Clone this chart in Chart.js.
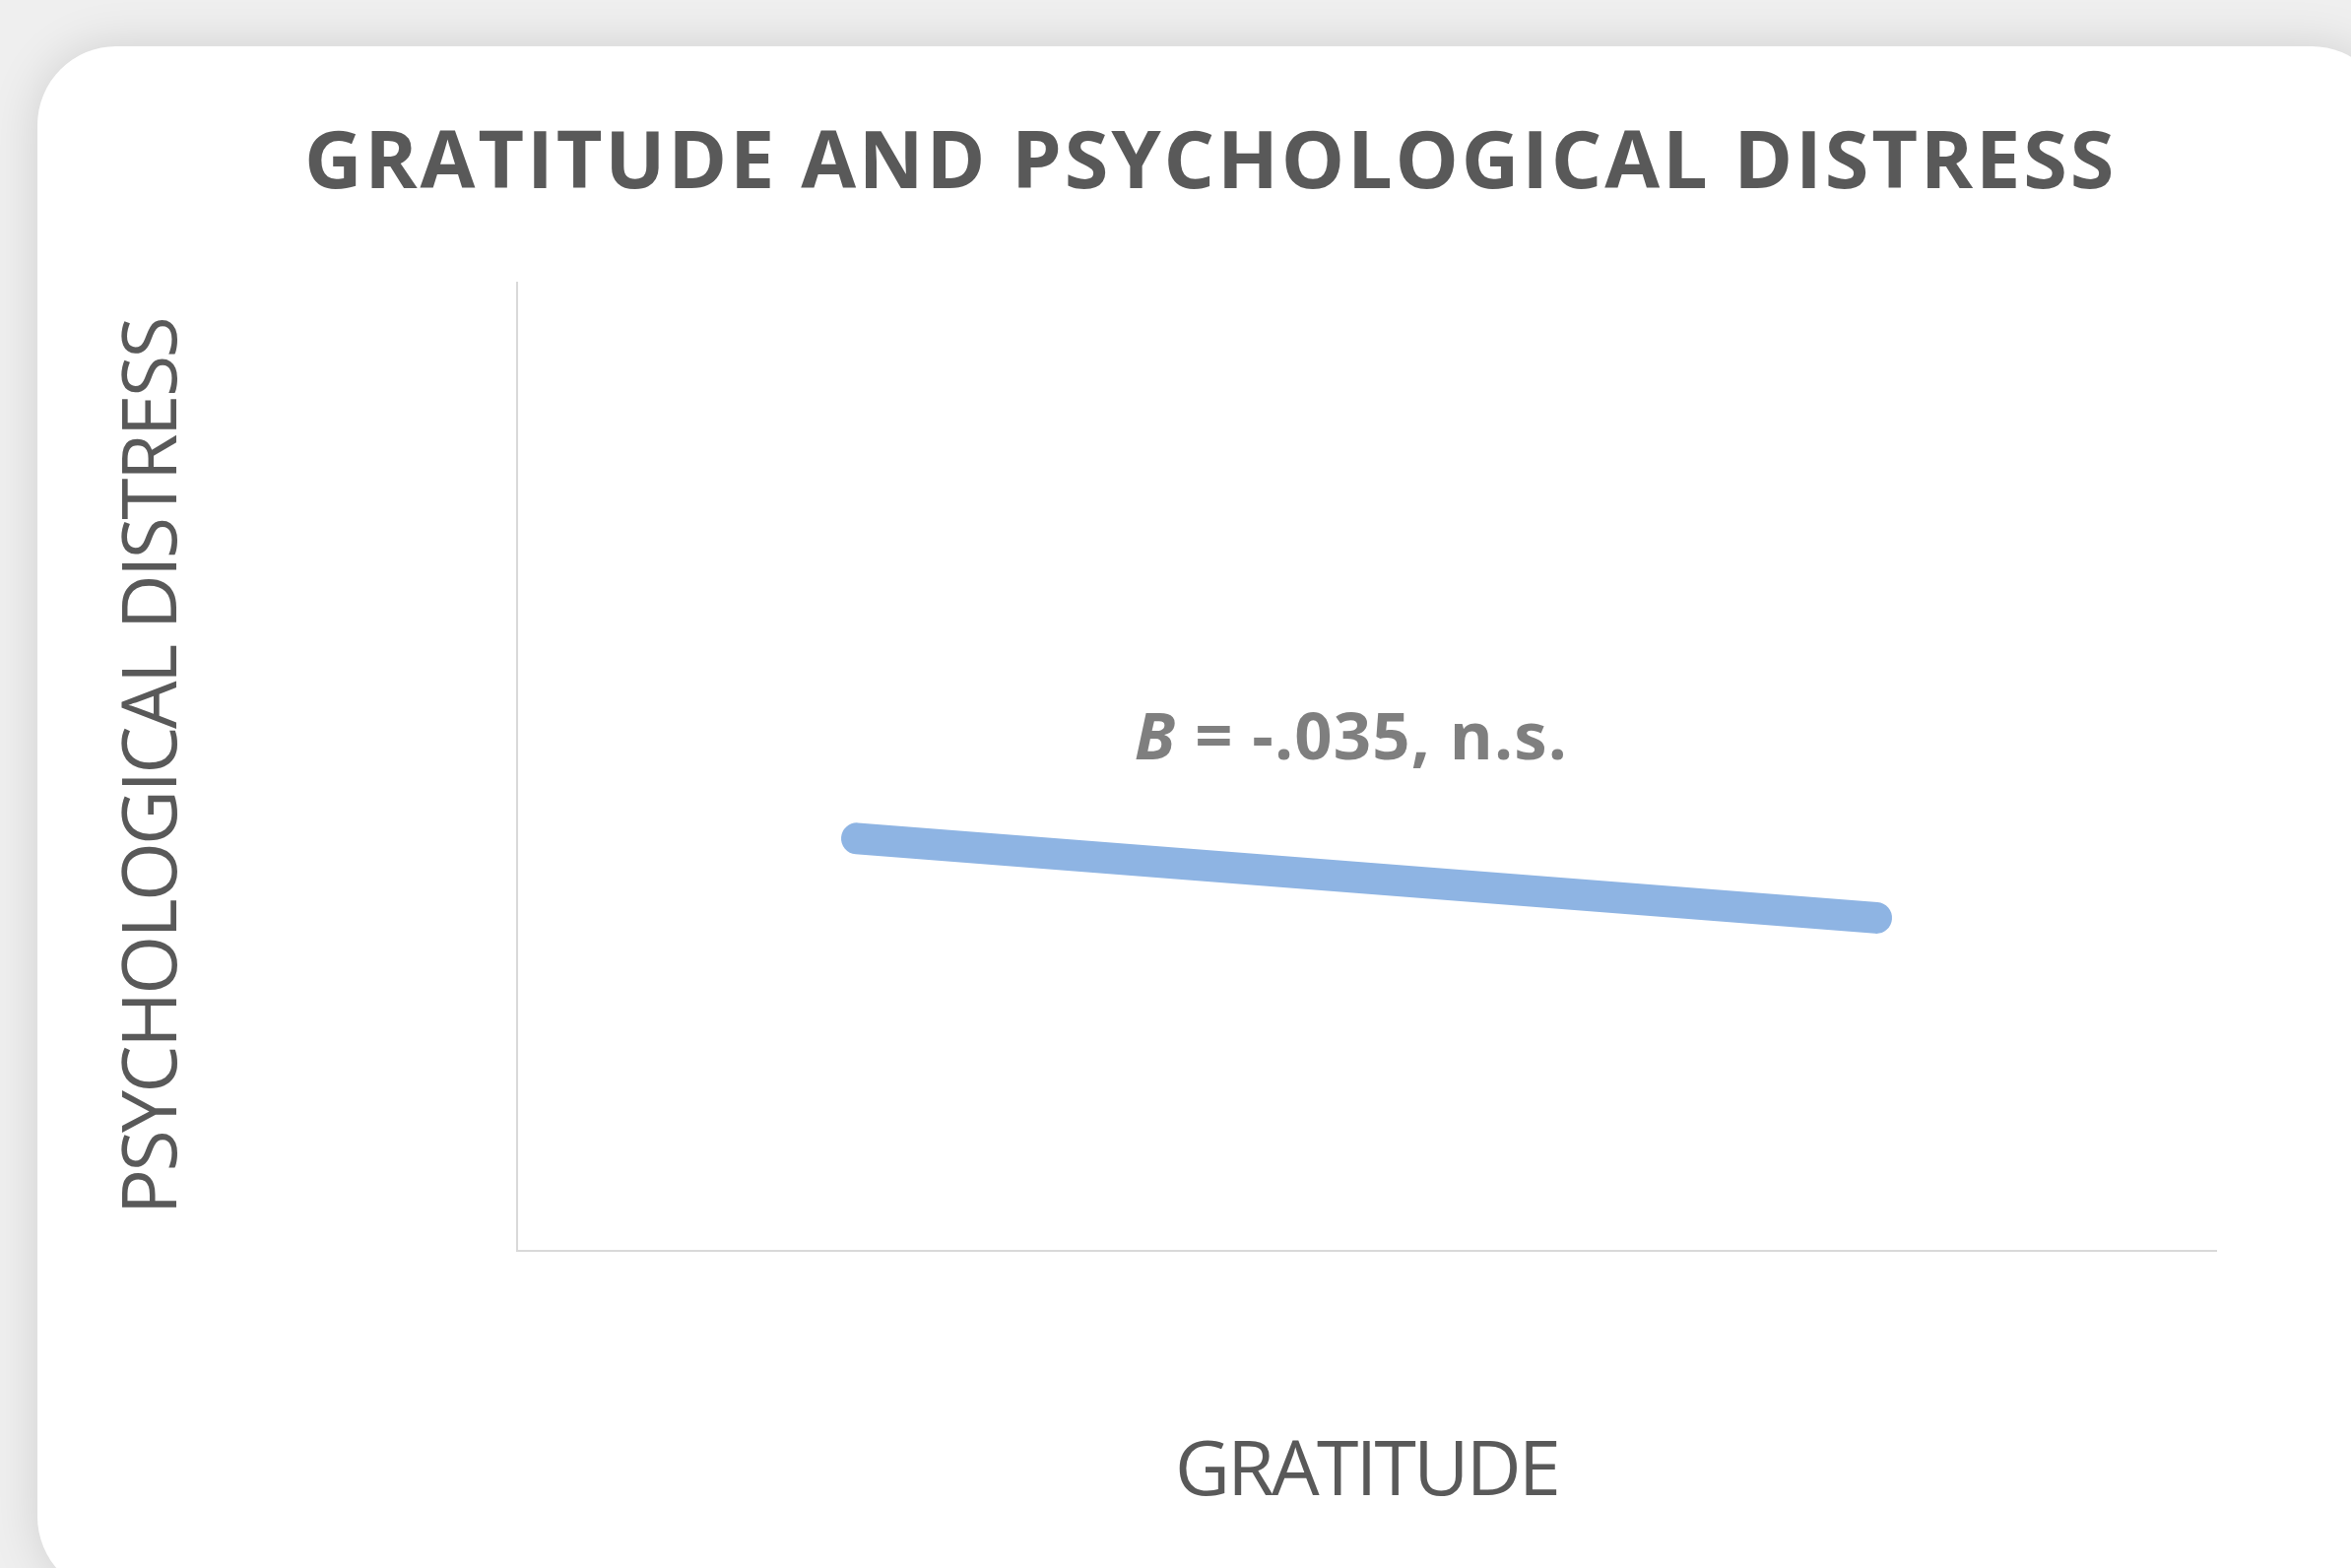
<!DOCTYPE html>
<html>
<head>
<meta charset="utf-8">
<script src="https://cdn.jsdelivr.net/npm/chart.js@4.4.1/dist/chart.umd.min.js"></script>
<style>
  html, body { margin: 0; padding: 0; width: 2387px; height: 1592px; overflow: hidden; background: #efefef; }
  #card { position: absolute; left: 38px; top: 47px; width: 2389px; height: 1573px; background: #ffffff; border-radius: 80px; box-shadow: 0 0 50px 0 rgba(0,0,0,0.13); }
  #wrap { position: absolute; left: 0; top: 0; width: 2387px; height: 1592px; }
</style>
</head>
<body>
<div id="card"></div>
<div id="wrap"><canvas id="c" width="2387" height="1592"></canvas></div>
<script>
// ---- data ----
const gratitude = [1, 4];              // low / high gratitude (x)
const distress = [2.13, 1.72];         // predicted psychological distress (y)
const chartTitle = 'GRATITUDE AND PSYCHOLOGICAL DISTRESS';
const xTitle = 'GRATITUDE';
const yTitle = 'PSYCHOLOGICAL DISTRESS';
const annotationParts = ['B', ' = -.035, n.s.'];
const annotationAt = [2.455, 2.635];   // data-space position of the label

const FONT = '"Open Sans", "Noto Sans", sans-serif';

function withSpacing(ctx, spacing, fn) {
  ctx.save();
  ctx.letterSpacing = spacing;
  fn();
  ctx.restore();
}

const spacingPlugin = {
  id: 'spacing',
  beforeDraw(chart) {
    const ctx = chart.ctx;
    const tb = chart.titleBlock;
    if (tb && !tb._wrapped) {
      const orig = tb.draw.bind(tb);
      tb.draw = function (a) { withSpacing(ctx, '2.8px', () => orig(a)); };
      tb._wrapped = true;
    }
    ['x', 'y'].forEach(id => {
      const s = chart.scales[id];
      if (s && !s._wrapped) {
        const orig = s.drawTitle.bind(s);
        s.drawTitle = function () { withSpacing(ctx, '-2.7px', () => orig()); };
        s._wrapped = true;
      }
    });
  }
};

const labelPlugin = {
  id: 'slopeLabel',
  afterDatasetsDraw(chart) {
    const ctx = chart.ctx;
    const xs = chart.scales.x, ys = chart.scales.y;
    const cx = xs.getPixelForValue(annotationAt[0]);
    const cy = ys.getPixelForValue(annotationAt[1]);
    ctx.save();
    ctx.letterSpacing = '1.2px';
    ctx.fillStyle = '#7f7f7f';
    ctx.textBaseline = 'middle';
    ctx.textAlign = 'left';
    const f1 = 'italic bold 67px ' + FONT;
    const f2 = 'bold 67px ' + FONT;
    ctx.font = f1; const w1 = ctx.measureText(annotationParts[0]).width;
    ctx.font = f2; const w2 = ctx.measureText(annotationParts[1]).width;
    const x = cx - (w1 + w2) / 2;
    ctx.font = f1; ctx.fillText(annotationParts[0], x, cy);
    ctx.font = f2; ctx.fillText(annotationParts[1], x + w1, cy);
    ctx.restore();
  }
};

new Chart(document.getElementById('c'), {
  type: 'line',
  data: {
    datasets: [{
      data: gratitude.map((g, i) => ({ x: g, y: distress[i] })),
      borderColor: '#8EB4E3',
      backgroundColor: '#8EB4E3',
      borderWidth: 32,
      borderCapStyle: 'round',
      pointRadius: 0,
      tension: 0,
      fill: false
    }]
  },
  options: {
    responsive: false,
    animation: false,
    layout: { padding: { left: 208, right: 137, top: 0, bottom: 0 } },
    plugins: {
      legend: { display: false },
      tooltip: { enabled: false },
      title: {
        display: true,
        text: chartTitle,
        color: '#595959',
        font: { family: FONT, size: 81, weight: 'bold' },
        padding: { top: 119, bottom: 71 }
      }
    },
    scales: {
      x: {
        type: 'linear', min: 0, max: 5,
        grid: { display: false },
        border: { display: true, color: '#d9d9d9', width: 2 },
        ticks: { display: false },
        title: {
          display: true, text: xTitle, color: '#595959',
          font: { family: FONT, size: 77, weight: 'normal' },
          padding: { top: 0, bottom: 50 }
        },
        afterFit(s) { s.height = 322; }
      },
      y: {
        type: 'linear', min: 0, max: 5,
        grid: { display: false },
        border: { display: true, color: '#d9d9d9', width: 2 },
        ticks: { display: false },
        title: {
          display: true, text: yTitle, color: '#595959',
          font: { family: FONT, size: 77, weight: 'normal' },
          padding: { top: -97, bottom: 0 }
        },
        afterFit(s) { s.width = 317; }
      }
    }
  },
  plugins: [spacingPlugin, labelPlugin]
});
</script>
</body>
</html>
